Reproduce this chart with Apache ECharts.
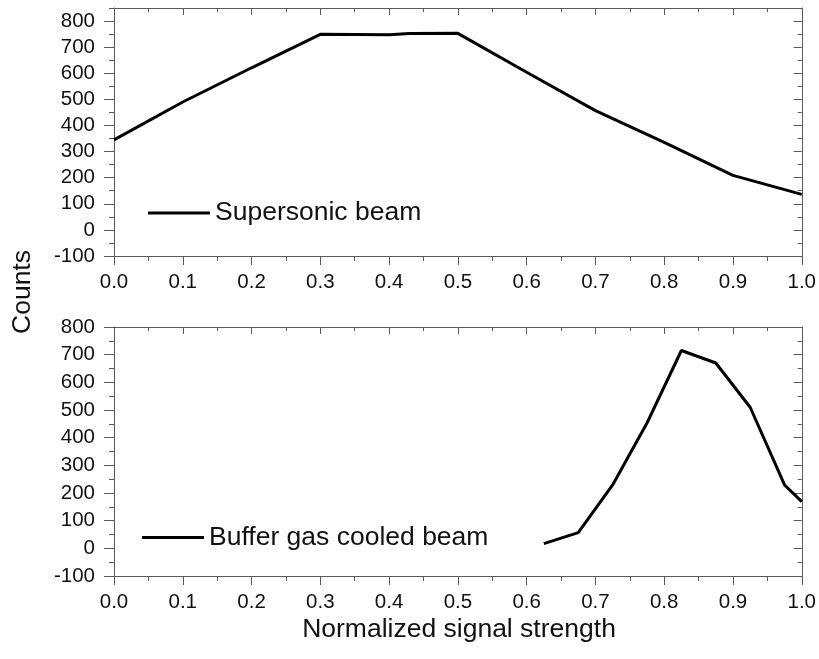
<!DOCTYPE html>
<html>
<head>
<meta charset="utf-8">
<script src="https://cdn.jsdelivr.net/npm/echarts@6/dist/echarts.min.js"></script>
<style>
  html, body { margin: 0; padding: 0; background: #fff; }
  #chart { width: 819px; height: 659px; }
</style>
</head>
<body>
<div id="chart"></div>
<script>
// Supersonic beam: counts vs normalized signal strength
const supersonicX = [0.0, 0.1, 0.2, 0.3, 0.4, 0.43, 0.5, 0.6, 0.7, 0.8, 0.9, 1.0];
const supersonicY = [345, 490, 621, 749, 748, 752, 753, 604, 457, 335, 209, 136];

// Buffer gas cooled beam
const bufferX = [0.625, 0.675, 0.725, 0.775, 0.825, 0.875, 0.925, 0.975, 1.0];
const bufferY = [17, 57, 229, 453, 715, 670, 510, 229, 169];

const seriesNames = ['Supersonic beam', 'Buffer gas cooled beam'];

// Axis ticks
const xMajorTicks = [0, 0.1, 0.2, 0.3, 0.4, 0.5, 0.6, 0.7, 0.8, 0.9, 1.0];
const xMinorTicks = [0.05, 0.15, 0.25, 0.35, 0.45, 0.55, 0.65, 0.75, 0.85, 0.95];
const yMajorTicks = [-100, 0, 100, 200, 300, 400, 500, 600, 700, 800];
const yMinorTicksTop = [-50, 50, 150, 250, 350, 450, 550, 650, 750, 850];
const yMinorTicksBottom = [-50, 50, 150, 250, 350, 450, 550, 650, 750];

const xTitle = 'Normalized signal strength';
const yTitle = 'Counts';

const FONT = '"Liberation Sans", Arial, Helvetica, sans-serif';
const AXIS_COLOR = '#5a5a5a';
const TEXT_COLOR = '#111';
const TITLE_SIZE = 26.5;

const grids = [
  { left: 114, top: 8, width: 690, height: 248, yMax: 850, yMinor: yMinorTicksTop },
  { left: 114, top: 327, width: 690, height: 249, yMax: 800, yMinor: yMinorTicksBottom }
];

const xAxes = [];
const yAxes = [];
const gridOpts = [];
const seriesRefs = [];

function mkAxis(gridIndex, position, min, max, ticks, len, inside, withLine, labels, fmt) {
  return {
    type: 'value',
    gridIndex: gridIndex,
    position: position,
    min: min,
    max: max,
    axisLine: { show: withLine, onZero: false, lineStyle: { color: AXIS_COLOR, width: 1 } },
    axisTick: {
      show: true, inside: inside, length: len,
      customValues: ticks,
      lineStyle: { color: AXIS_COLOR, width: 1 }
    },
    axisLabel: labels ? {
      show: true,
      customValues: ticks,
      formatter: fmt,
      fontFamily: FONT,
      fontSize: 20.5,
      color: TEXT_COLOR,
      margin: position === 'left' ? 19 : 16
    } : { show: false },
    splitLine: { show: false },
    minorTick: { show: false }
  };
}

grids.forEach(function (g, gi) {
  gridOpts.push({ left: g.left, top: g.top, width: g.width, height: g.height, containLabel: false });

  const xb = xAxes.length;
  xAxes.push(mkAxis(gi, 'bottom', 0, 1, xMajorTicks, 9, false, true, true, function (v) { return v.toFixed(1); }));
  xAxes.push(mkAxis(gi, 'bottom', 0, 1, xMinorTicks, 5, false, false, false));
  xAxes.push(mkAxis(gi, 'top', 0, 1, xMajorTicks, 7, true, true, false));
  xAxes.push(mkAxis(gi, 'top', 0, 1, xMinorTicks, 4, true, false, false));

  const yl = yAxes.length;
  yAxes.push(mkAxis(gi, 'left', -100, g.yMax, yMajorTicks, 10, false, true, true, function (v) { return String(v); }));
  yAxes.push(mkAxis(gi, 'left', -100, g.yMax, g.yMinor, 5, false, false, false));
  yAxes.push(mkAxis(gi, 'right', -100, g.yMax, yMajorTicks, 8, true, true, false));
  yAxes.push(mkAxis(gi, 'right', -100, g.yMax, g.yMinor, 4, true, false, false));

  seriesRefs.push({ x: xb, y: yl });
});

function pairs(xs, ys) {
  return xs.map(function (x, i) { return [x, ys[i]]; });
}

const series = [
  {
    name: seriesNames[0], type: 'line', data: pairs(supersonicX, supersonicY),
    xAxisIndex: seriesRefs[0].x, yAxisIndex: seriesRefs[0].y,
    showSymbol: false, symbol: 'none', color: '#000',
    lineStyle: { color: '#000', width: 3 }, animation: false
  },
  {
    name: seriesNames[1], type: 'line', data: pairs(bufferX, bufferY),
    xAxisIndex: seriesRefs[1].x, yAxisIndex: seriesRefs[1].y,
    showSymbol: false, symbol: 'none', color: '#000',
    lineStyle: { color: '#000', width: 3 }, animation: false
  }
];

function mkLegend(name, left, top) {
  return {
    data: [name], left: left, top: top, padding: 0,
    icon: 'rect', itemWidth: 62, itemHeight: 3,
    itemStyle: { color: '#000' },
    textStyle: { fontFamily: FONT, fontSize: TITLE_SIZE, color: TEXT_COLOR, lineHeight: 27 },
    selectedMode: false
  };
}

const chart = echarts.init(document.getElementById('chart'), null, { renderer: 'canvas' });
chart.setOption({
  animation: false,
  backgroundColor: '#fff',
  grid: gridOpts,
  xAxis: xAxes,
  yAxis: yAxes,
  legend: [mkLegend(seriesNames[0], 148, 199.5), mkLegend(seriesNames[1], 142, 524)],
  series: series,
  graphic: [
    {
      type: 'text', x: 23, y: 292, rotation: Math.PI / 2,
      style: { text: yTitle, font: TITLE_SIZE + 'px ' + FONT, fill: TEXT_COLOR, align: 'center', verticalAlign: 'middle' }
    },
    {
      type: 'text', x: 459, y: 630,
      style: { text: xTitle, font: TITLE_SIZE + 'px ' + FONT, fill: TEXT_COLOR, align: 'center', verticalAlign: 'middle' }
    }
  ]
});
</script>
</body>
</html>
